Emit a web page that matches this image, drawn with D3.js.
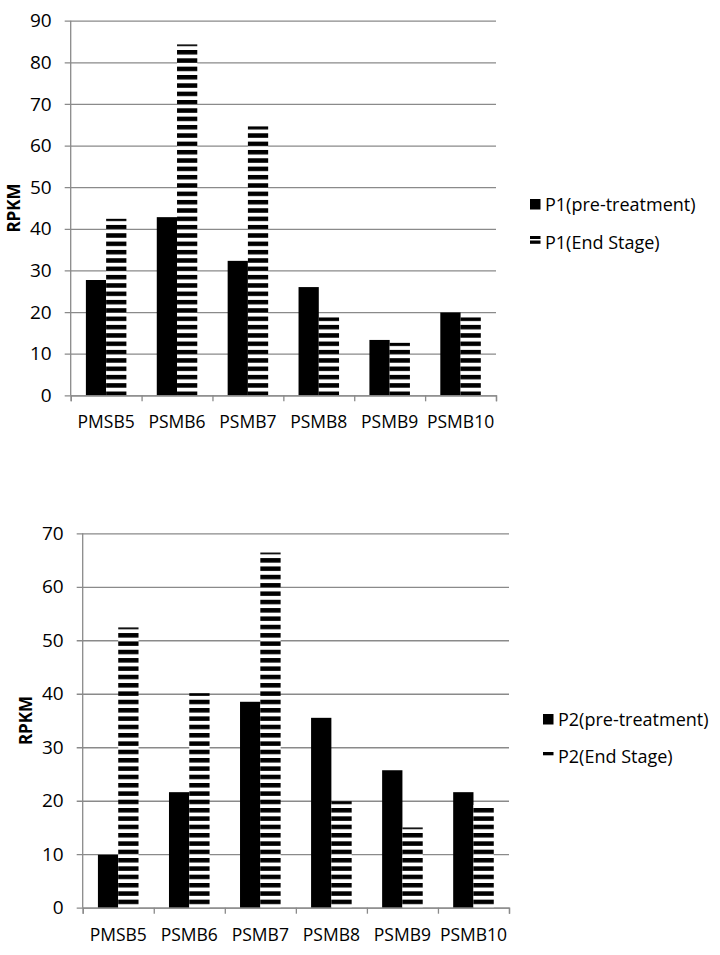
<!DOCTYPE html>
<html>
<head>
<meta charset="utf-8">
<script src="https://cdn.jsdelivr.net/npm/d3@7"></script>
<style>
  body { margin: 0; background: #fff; }
  text { font-family: "Open Sans", "Noto Sans", sans-serif; fill: #000; }
  .tick text { font-size: 17.5px; }
  .yaxis .tick text { font-size: 19px; }
  .legend text { font-size: 18px; }
</style>
</head>
<body>
<script>
// categories and values (RPKM)
var categories = ["PMSB5", "PSMB6", "PSMB7", "PSMB8", "PSMB9", "PSMB10"];
var p1Pre = [27.7, 42.8, 32.3, 26.0, 13.3, 19.9];
var p1End = [42.4, 84.3, 64.6, 18.7, 12.6, 18.7];
var p2Pre = [9.9, 21.6, 38.5, 35.5, 25.7, 21.6];
var p2End = [52.4, 40.1, 66.4, 19.9, 15.0, 19.2];
var p1Ticks = [0, 10, 20, 30, 40, 50, 60, 70, 80, 90];
var p2Ticks = [0, 10, 20, 30, 40, 50, 60, 70];
var p1Labels = ["P1(pre-treatment)", "P1(End Stage)"];
var p2Labels = ["P2(pre-treatment)", "P2(End Stage)"];

var width = 720, height = 955;
var gridColor = "#8a8a8a";

var svg = d3.select("body").append("svg")
    .attr("width", width)
    .attr("height", height);

/* horizontal stripe pattern used by the End Stage bars */
var defs = svg.append("defs");
var hatch = defs.append("pattern")
    .attr("id", "hatch")
    .attr("patternUnits", "userSpaceOnUse")
    .attr("width", 10)
    .attr("height", 8.33);
hatch.append("rect").attr("width", 10).attr("height", 8.33).attr("fill", "#fff");
hatch.append("rect").attr("y", 0).attr("width", 10).attr("height", 4.5).attr("fill", "#000");

function drawChart(opt) {
    var g = svg.append("g");
    var plotW = opt.right - opt.left;

    var y = d3.scaleLinear()
        .domain([0, opt.ticks[opt.ticks.length - 1]])
        .range([opt.bottom, opt.top]);

    var x = d3.scaleBand()
        .domain(categories)
        .range([opt.left, opt.right])
        .padding(0);

    // two bars per category, excel style gap of 150%
    var xSub = d3.scaleBand()
        .domain([0, 1])
        .range([0, x.bandwidth()])
        .paddingInner(0)
        .paddingOuter(0.75);

    /* gridlines + outward ticks + labels on the left */
    var yAxis = d3.axisLeft(y)
        .tickValues(opt.ticks)
        .tickSize(plotW + 6)
        .tickPadding(13);
    var ya = g.append("g")
        .attr("class", "yaxis")
        .attr("transform", "translate(" + opt.right + ",0)")
        .call(yAxis);
    ya.select(".domain").remove();
    ya.selectAll(".tick line").attr("stroke", gridColor).attr("stroke-width", 1.3);

    /* bars */
    var series = [opt.pre, opt.end];
    var fills = ["#000", "url(#hatch)"];
    series.forEach(function(vals, s) {
        g.selectAll(".bar" + s)
            .data(vals)
            .enter()
            .append("rect")
            .attr("class", "bar" + s)
            .attr("x", function(d, i) { return x(categories[i]) + xSub(s); })
            .attr("y", function(d) { return y(d); })
            .attr("width", xSub.bandwidth())
            .attr("height", function(d) { return y(0) - y(d); })
            .attr("fill", fills[s]);
    });

    /* vertical axis line */
    g.append("line")
        .attr("x1", opt.left).attr("x2", opt.left)
        .attr("y1", opt.top).attr("y2", opt.bottom)
        .attr("stroke", gridColor).attr("stroke-width", 1.3);

    /* x axis: tick marks on category boundaries */
    var bounds = d3.scaleLinear().domain([0, categories.length]).range([opt.left, opt.right]);
    var xTicks = g.append("g")
        .attr("transform", "translate(0," + opt.bottom + ")")
        .call(d3.axisBottom(bounds).ticks(categories.length).tickSize(6).tickFormat(""));
    xTicks.selectAll("line, path").attr("stroke", gridColor).attr("stroke-width", 1.3);

    /* category labels */
    var xa = g.append("g")
        .attr("transform", "translate(0," + opt.bottom + ")")
        .call(d3.axisBottom(x).tickSize(0).tickPadding(20.6));
    xa.select(".domain").remove();

    /* y axis title */
    g.append("text")
        .attr("transform", "translate(" + opt.titleX + "," + ((opt.top + opt.bottom) / 2) + ") rotate(-90)")
        .attr("text-anchor", "middle")
        .style("font-size", "17px")
        .style("font-weight", "bold")
        .text("RPKM");

    /* legend */
    var lg = g.append("g").attr("class", "legend");
    opt.labels.forEach(function(label, i) {
        var base = opt.legendY + i * opt.legendStep;
        if (i === 0) {
            lg.append("rect")
                .attr("x", opt.legendX).attr("y", base - 12)
                .attr("width", 10.5).attr("height", 10.5)
                .attr("fill", "#000");
        } else {
            opt.swatchStripes.forEach(function(st) {
                lg.append("rect")
                    .attr("x", opt.legendX).attr("y", base + st[0])
                    .attr("width", 10.5).attr("height", st[1])
                    .attr("fill", "#000");
            });
        }
        lg.append("text")
            .attr("x", opt.legendX + 15)
            .attr("y", base)
            .text(label);
    });
}

drawChart({
    left: 70.7, right: 496, top: 20.7, bottom: 395.3,
    ticks: p1Ticks, pre: p1Pre, end: p1End, labels: p1Labels,
    titleX: 20, legendX: 530, legendY: 211, legendStep: 37.5,
    swatchStripes: [[-12.5, 3], [-8, 3.3]]
});

drawChart({
    left: 82.7, right: 509, top: 533.3, bottom: 907.7,
    ticks: p2Ticks, pre: p2Pre, end: p2End, labels: p2Labels,
    titleX: 31.5, legendX: 543, legendY: 726, legendStep: 37,
    swatchStripes: [[-11, 3.3]]
});
</script>
</body>
</html>
